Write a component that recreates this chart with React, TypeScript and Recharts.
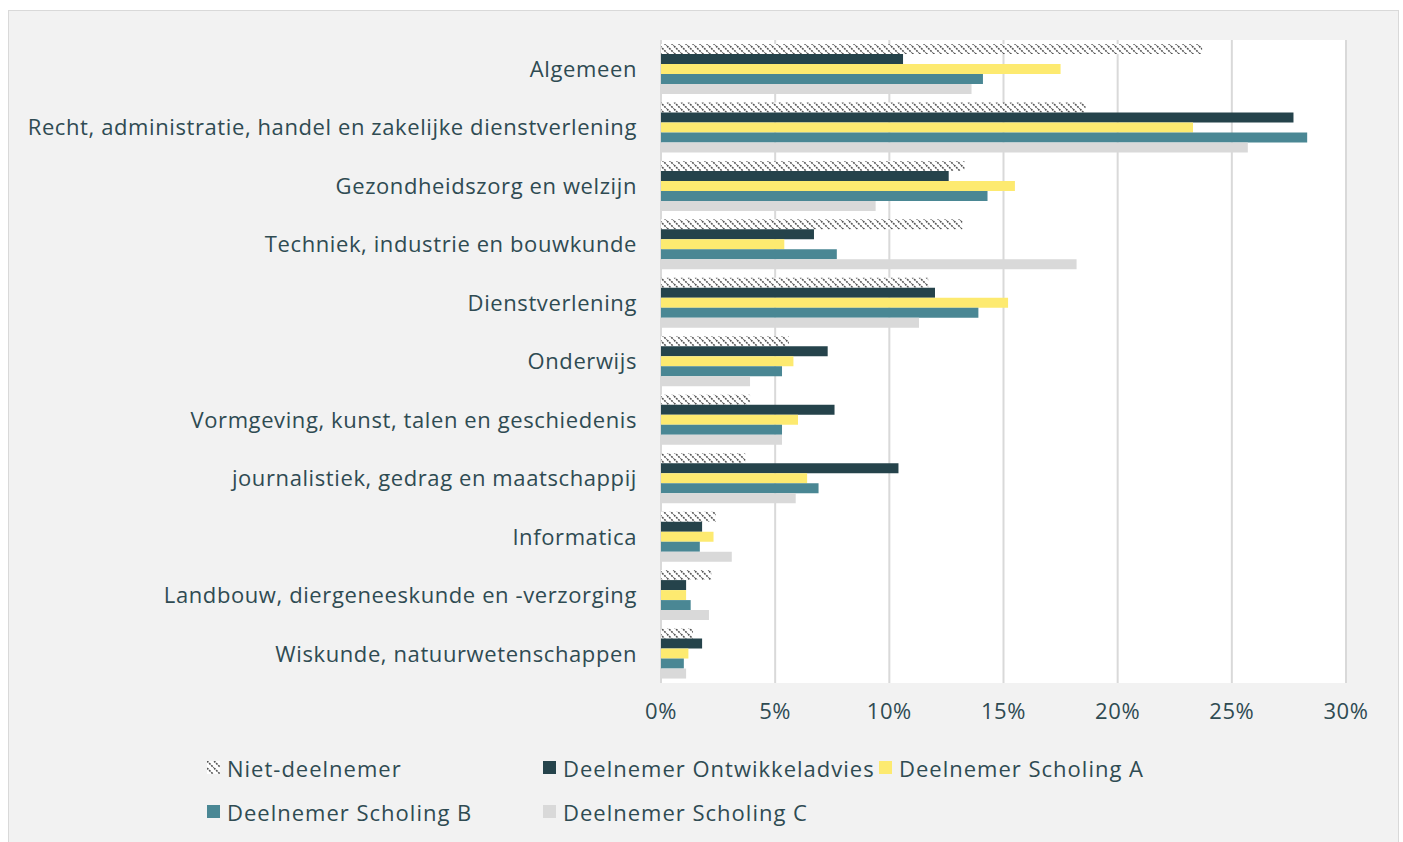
import { BarChart, Bar, XAxis, YAxis, CartesianGrid } from 'recharts';

const categories = [
  'Algemeen',
  'Recht, administratie, handel en zakelijke dienstverlening',
  'Gezondheidszorg en welzijn',
  'Techniek, industrie en bouwkunde',
  'Dienstverlening',
  'Onderwijs',
  'Vormgeving, kunst, talen en geschiedenis',
  'journalistiek, gedrag en maatschappij',
  'Informatica',
  'Landbouw, diergeneeskunde en -verzorging',
  'Wiskunde, natuurwetenschappen',
];

const nietDeelnemer = [23.7, 18.6, 13.3, 13.2, 11.7, 5.6, 3.9, 3.7, 2.4, 2.2, 1.4];
const ontwikkeladvies = [10.6, 27.7, 12.6, 6.7, 12.0, 7.3, 7.6, 10.4, 1.8, 1.1, 1.8];
const scholingA = [17.5, 23.3, 15.5, 5.4, 15.2, 5.8, 6.0, 6.4, 2.3, 1.1, 1.2];
const scholingB = [14.1, 28.3, 14.3, 7.7, 13.9, 5.3, 5.3, 6.9, 1.7, 1.3, 1.0];
const scholingC = [13.6, 25.7, 9.4, 18.2, 11.3, 3.9, 5.3, 5.9, 3.1, 2.1, 1.1];

const xTicks = [0, 5, 10, 15, 20, 25, 30];

const series = [
  { key: 'niet', name: 'Niet-deelnemer', fill: 'url(#hatch)' },
  { key: 'ontw', name: 'Deelnemer Ontwikkeladvies', fill: '#25434b' },
  { key: 'a', name: 'Deelnemer Scholing A', fill: '#fdea70' },
  { key: 'b', name: 'Deelnemer Scholing B', fill: '#4a8794' },
  { key: 'c', name: 'Deelnemer Scholing C', fill: '#d9d9d9' },
];

const data = categories.map((cat, i) => ({
  cat,
  niet: nietDeelnemer[i],
  ontw: ontwikkeladvies[i],
  a: scholingA[i],
  b: scholingB[i],
  c: scholingC[i],
}));

const textColor = '#2f4b52';
const font = '"Open Sans", sans-serif';
const tickStyle = { fill: textColor, fontSize: 22, fontFamily: font, letterSpacing: 0.6 };

function LegendIcon({ fill }: { fill: string }) {
  return (
    <svg width={14} height={14} style={{ marginRight: 6, flex: 'none' }}>
      <rect x={0} y={0} width={13} height={13} fill={fill} />
    </svg>
  );
}

export default function App() {
  return (
    <div
      style={{
        position: 'absolute',
        left: 8,
        top: 10,
        width: 1391,
        height: 850,
        boxSizing: 'border-box',
        border: '1px solid #d9d9d9',
        background: '#f2f2f2',
        fontFamily: font,
      }}
    >
      <svg width={0} height={0} style={{ position: 'absolute' }}>
        <defs>
          <pattern id="hatch" patternUnits="userSpaceOnUse" width={7} height={7}>
            <rect width={7} height={7} fill="#ffffff" />
            <path d="M0,0 L7,7 M-2,5 L2,9 M5,-2 L9,2" stroke="#555555" strokeWidth={1.6} strokeDasharray="2 1" />
          </pattern>
        </defs>
      </svg>
      <BarChart
        width={1380}
        height={722}
        data={data}
        layout="vertical"
        margin={{ top: 29, right: 43, bottom: 0, left: 0 }}
        barSize={10}
        barGap={0}
      >
        <CartesianGrid horizontal={false} stroke="#d9d9d9" strokeWidth={2} fill="#ffffff" />
        <XAxis
          type="number"
          domain={[0, 30]}
          ticks={xTicks}
          tickFormatter={(v) => `${v}%`}
          axisLine={false}
          tickLine={false}
          tickMargin={14}
          height={50}
          tick={tickStyle}
        />
        <YAxis
          type="category"
          dataKey="cat"
          width={652}
          axisLine={false}
          tickLine={false}
          tickMargin={18}
          interval={0}
          tick={tickStyle}
        />
        {series.map((s) => (
          <Bar key={s.key} dataKey={s.key} name={s.name} fill={s.fill} isAnimationActive={false} />
        ))}
      </BarChart>
      <div
        style={{
          position: 'absolute',
          left: 198,
          top: 742,
          display: 'grid',
          gridTemplateColumns: '336px 336px 336px',
          rowGap: 14,
          color: textColor,
          fontSize: 22,
          letterSpacing: 1,
          whiteSpace: 'nowrap',
        }}
      >
        {series.map((s) => (
          <div key={s.key} style={{ display: 'flex', alignItems: 'center', height: 30 }}>
            <LegendIcon fill={s.fill} />
            <span>{s.name}</span>
          </div>
        ))}
      </div>
    </div>
  );
}
